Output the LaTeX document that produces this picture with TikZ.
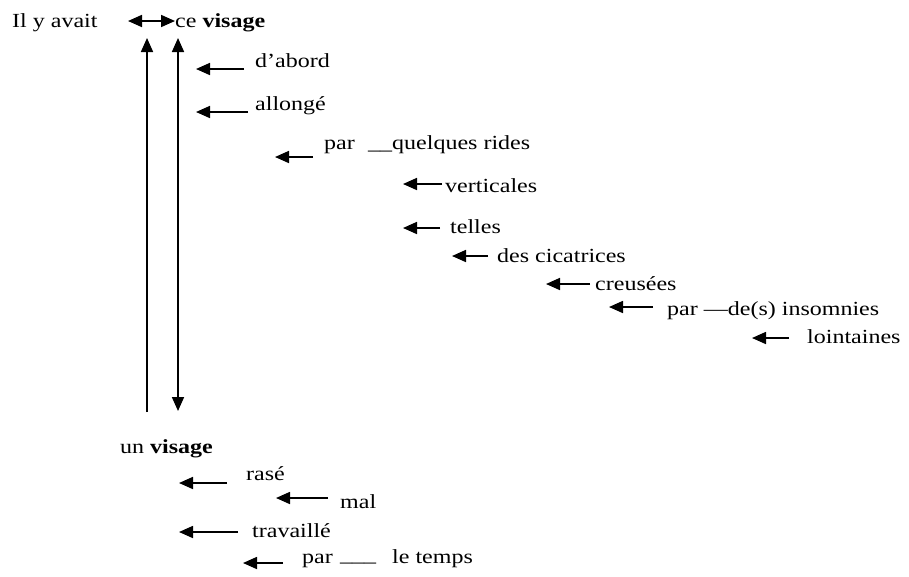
\documentclass[tikz,border=0pt]{standalone}
\usepackage{fontspec}
\setmainfont{Liberation Serif}[FakeStretch=1.2]
\usepackage{tikz}
\usetikzlibrary{arrows.meta,positioning,calc}
\tikzset{
  word/.style = {anchor=base west, inner sep=0pt},
  sig/.style  = {-{Triangle[length=14pt,width=12pt]}, line width=1.7pt},
  dsig/.style = {{Triangle[length=14pt,width=12pt]}-{Triangle[length=14pt,width=12pt]}, line width=1.7pt},
}
\begin{document}
\begin{tikzpicture}[x=1pt,y=-1pt,font=\fontsize{20}{24}\selectfont]
\useasboundingbox (0,0) rectangle (909,576);
% main clause
\node[word] (ilya)  at (12,27)  {Il y avait};
\node[word] (cevis) at (175,27) {ce \textbf{visage}};
\node[word] (unvis) at (120,453) {un \textbf{visage}};
\coordinate (hL) at (128,21); \coordinate (hR) at (175,21);
\draw[dsig] (hL) -- (hR);
\coordinate (vA) at (147,412); \coordinate (vB) at (147,38);
\coordinate (wA) at (178,38);  \coordinate (wB) at (178,411);
\draw[sig] (vA) -- (vB);
\draw[dsig] (wA) -- (wB);
% ce visage
\node[word] (abord)   at (255,67)  {d’abord};
\node[word] (allonge) at (255,110) {allongé};
\node[word] (par1)    at (324,149) {par};
\node[word] (rides)   at (368,149) {\_\_quelques rides};
\node[word] (vert)    at (445,192) {verticales};
\node[word] (telles)  at (450,233) {telles};
\node[word] (cicat)   at (497,262) {des cicatrices};
\node[word] (creus)   at (595,290) {creusées};
\node[word] (par2)    at (667,315) {par —de(s) insomnies};
\node[word] (loint)   at (807,343) {lointaines};
\draw[sig] (244,69)  -- (196,69);
\draw[sig] (248,112) -- (196,112);
\draw[sig] (313,157) -- (275,157);
\draw[sig] (442,184) -- (403,184);
\draw[sig] (440,228) -- (403,228);
\draw[sig] (488,256) -- (452,256);
\draw[sig] (590,284) -- (546,284);
\draw[sig] (653,307) -- (609,307);
\draw[sig] (789,338) -- (752,338);
% un visage
\node[word] (rase)  at (246,480) {rasé};
\node[word] (mal)   at (340,508) {mal};
\node[word] (trav)  at (252,537) {travaillé};
\node[word] (par3)  at (302,563) {par};
\node[word] (lnk)   at (340,561) {\_\_\_};
\node[word] (temps) at (392,563) {le temps};
\draw[sig] (227,483) -- (179,483);
\draw[sig] (328,498) -- (276,498);
\draw[sig] (238,532) -- (179,532);
\draw[sig] (283,563) -- (243,563);
\end{tikzpicture}
\end{document}
